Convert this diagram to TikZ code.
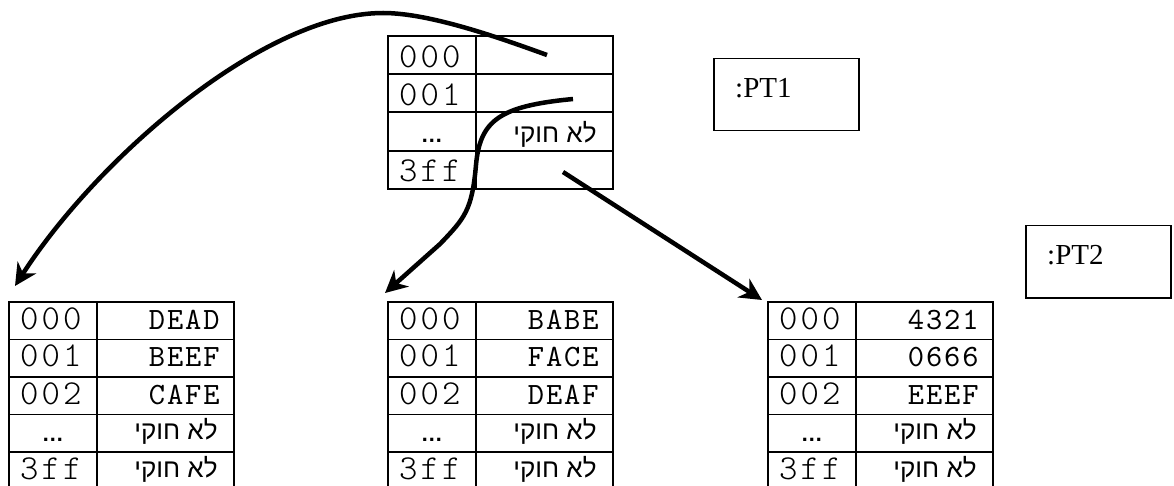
\documentclass[tikz,border=0pt]{standalone}
\usepackage{fontspec}
\setmainfont{Liberation Serif}
\newfontfamily\monofont[LetterSpace=9]{lmmonolt10-regular.otf}
\newfontfamily\monofontR[LetterSpace=6]{lmmono10-regular.otf}
\newfontfamily\hebfont[Script=Hebrew]{Liberation Sans}
\newfontfamily\dotsfont{Liberation Sans}
\TeXXeTstate=1
\usetikzlibrary{arrows.meta,calc}
\newcommand\monoL{\monofont\fontsize{35}{40}\selectfont}
\newcommand\monoR{\monofontR\fontsize{31}{36}\selectfont}
\newcommand\hebsz{\hebfont\fontsize{26}{30}\selectfont}
\newcommand\dotsz{\dotsfont\bfseries\fontsize{22}{26}\selectfont}
\newcommand\illegal{{\hebsz\beginR לא חוקי\endR}}
\newcommand\ptfont{\fontsize{29}{32}\selectfont}
\begin{document}
\begin{tikzpicture}[x=1pt,y=-1pt,
  cell/.style={draw, line width=1.8pt, rectangle, inner sep=0pt, anchor=north west},
  lt/.style={font=\monoL, inner sep=0pt, anchor=base},
  dt/.style={font=\dotsz, inner sep=0pt, anchor=base},
  rt/.style={font=\monoR, inner sep=0pt, anchor=base east},
  ht/.style={inner sep=0pt, anchor=base east},
  ptbox/.style={draw, line width=1.5pt, rectangle, inner sep=0pt, anchor=north west, minimum width=145pt, minimum height=72pt},
  pttext/.style={font=\ptfont, inner sep=0pt, anchor=base west},
  ptr/.style={line width=4.5pt, -{Stealth[length=22pt,width=22pt,inset=7pt]}}]
\path[use as bounding box] (0,0) rectangle (1174,486);

% top table PT1
\foreach \r in {0,...,3}{
  \node[cell,minimum width=88pt,minimum height=38.25pt] (Tl\r) at (387,{35+38.25*\r}) {};
  \node[cell,minimum width=137pt,minimum height=38.25pt] (Tr\r) at (475,{35+38.25*\r}) {};
}
\node[lt] (Tt0) at ($(Tl0.south)+(-2,-8)$) {000};
\node[lt] (Tt1) at ($(Tl1.south)+(-2,-8)$) {001};
\node[dt] (Tt2) at ($(Tl2.south)+(0,-9)$) {…};
\node[lt] (Tt3) at ($(Tl3.south)+(-2,-8)$) {3ff};
\node[ht] (Tv2) at ($(Tr2.south east)+(-17,-9)$) {\illegal};

% bottom tables
\foreach \n/\L in {A/8,B/387,C/767}{
  \foreach \r in {0,...,4}{
    \node[cell,minimum width=88pt,minimum height=37.5pt] (\n l\r) at (\L,{301+37.5*\r}) {};
    \node[cell,minimum width=137pt,minimum height=37.5pt] (\n r\r) at ({\L+88},{301+37.5*\r}) {};
  }
}
\foreach \n in {A,B,C}{
  \node[lt] (\n t0) at ($(\n l0.south)+(-2,-11)$) {000};
  \node[lt] (\n t1) at ($(\n l1.south)+(-2,-11)$) {001};
  \node[lt] (\n t2) at ($(\n l2.south)+(-2,-11)$) {002};
  \node[dt] (\n t3) at ($(\n l3.south)+(0,-11)$) {…};
  \node[lt] (\n t4) at ($(\n l4.south)+(-2,-11)$) {3ff};
  \node[ht] (\n v3) at ($(\n r3.south east)+(-17,-13)$) {\illegal};
  \node[ht] (\n v4) at ($(\n r4.south east)+(-17,-13)$) {\illegal};
}
\node[rt] (Av0) at ($(Ar0.south east)+(-15,-11)$) {DEAD};
\node[rt] (Av1) at ($(Ar1.south east)+(-15,-11)$) {BEEF};
\node[rt] (Av2) at ($(Ar2.south east)+(-15,-11)$) {CAFE};
\node[rt] (Bv0) at ($(Br0.south east)+(-15,-11)$) {BABE};
\node[rt] (Bv1) at ($(Br1.south east)+(-15,-11)$) {FACE};
\node[rt] (Bv2) at ($(Br2.south east)+(-15,-11)$) {DEAF};
\node[rt] (Cv0) at ($(Cr0.south east)+(-15,-11)$) {4321};
\node[rt] (Cv1) at ($(Cr1.south east)+(-15,-11)$) {0666};
\node[rt] (Cv2) at ($(Cr2.south east)+(-15,-11)$) {EEEF};

% labels
\node[ptbox] (pt1) at (713,58) {};
\node[pttext] (pt1t) at ($(pt1.north west)+(22,40)$) {:PT1};
\node[ptbox] (pt2) at (1025,225) {};
\node[pttext] (pt2t) at ($(pt2.north west)+(22,40)$) {:PT2};

% pointers
\coordinate (p1s) at (547,55);
\coordinate (p1m) at (383,13);
\coordinate (p1e) at (15,286);
\coordinate (p2s) at (573,99);
\coordinate (p2e) at (385,293);
\coordinate (p3s) at (563,172);
\coordinate (p3e) at (762,300);
\draw[ptr] (p1s) .. controls (500,38) and (430,13) .. (p1m) .. controls (263,13) and (96,160) .. (p1e);
\draw[ptr] (p2s) .. controls (500,106) and (480,120) .. (476,165) .. controls (472,210) and (465,218) .. (440,244) -- (p2e);
\draw[ptr] (p3s) -- (p3e);
\end{tikzpicture}
\end{document}
